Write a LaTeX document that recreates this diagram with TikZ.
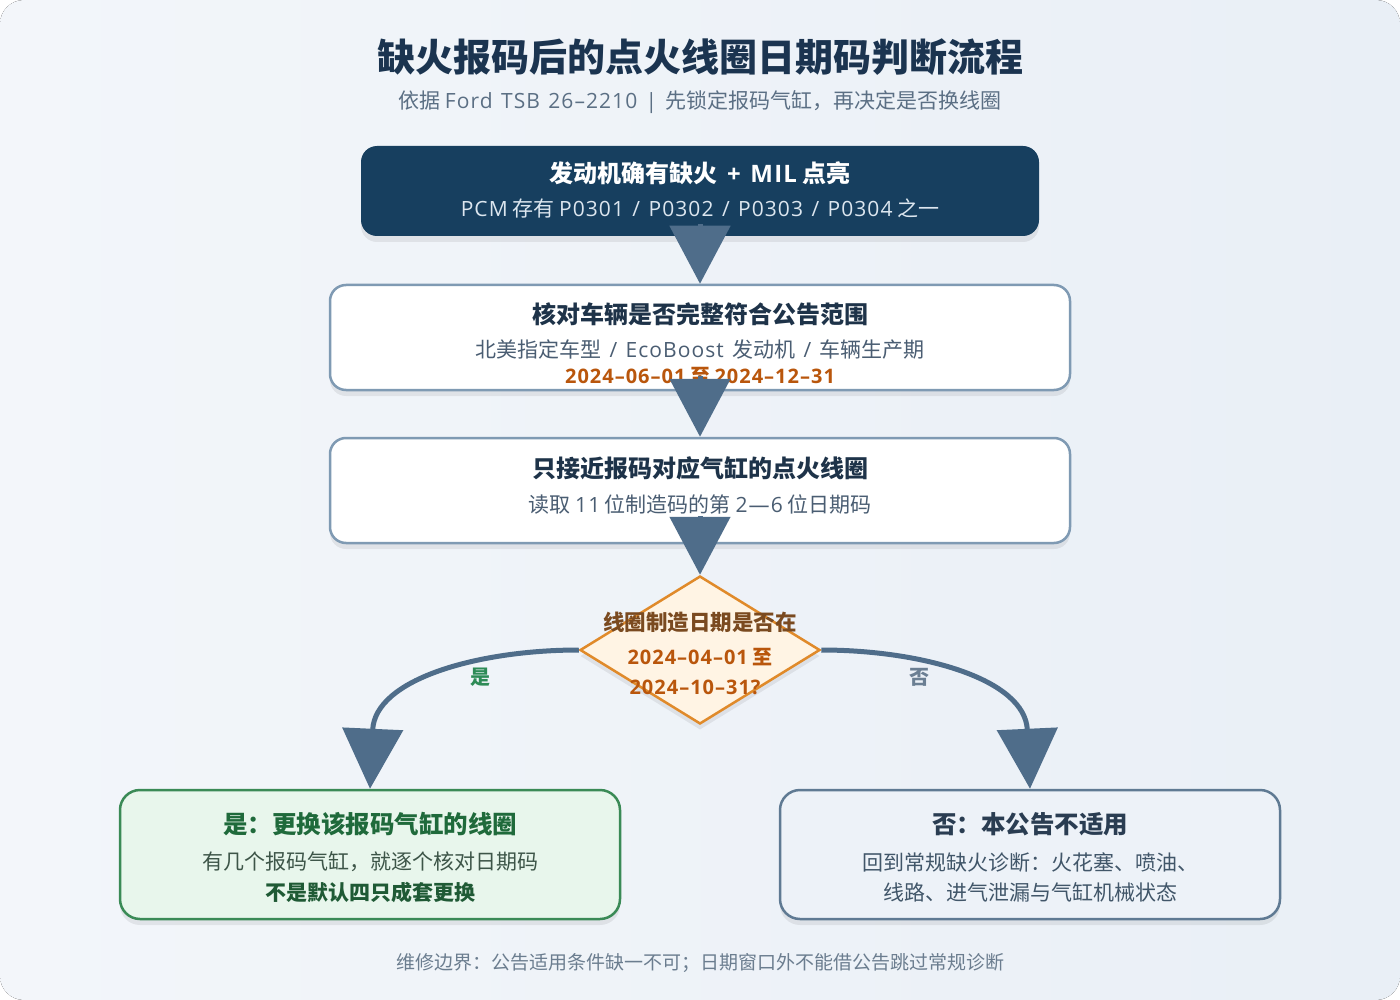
\documentclass[tikz,border=0pt]{standalone}
\usepackage{fontspec}
\setmainfont{Noto Sans CJK SC}
\newfontfamily\lat{Open Sans}[LetterSpace=5,WordSpace=1.3]
\usetikzlibrary{arrows.meta,shapes.geometric,shadows}
\definecolor{bgA}{HTML}{F3F6FA}
\definecolor{bgB}{HTML}{E9EFF6}
\definecolor{navy}{HTML}{173F5F}
\definecolor{titlec}{HTML}{1B3450}
\definecolor{subc}{HTML}{5B6F84}
\definecolor{lightc}{HTML}{DCE6EF}
\definecolor{darkc}{HTML}{1E3349}
\definecolor{bodyc}{HTML}{4A5D72}
\definecolor{orangec}{HTML}{B9560C}
\definecolor{boxline}{HTML}{7F9AB3}
\definecolor{arrowc}{HTML}{4F6D8A}
\definecolor{diafill}{HTML}{FFF4E4}
\definecolor{dialine}{HTML}{E08A2A}
\definecolor{diatitle}{HTML}{7A4A20}
\definecolor{greenfill}{HTML}{E8F6EC}
\definecolor{greenline}{HTML}{3A8A56}
\definecolor{greentitle}{HTML}{1F6A3B}
\definecolor{greenbody}{HTML}{3D5548}
\definecolor{greenbold}{HTML}{1F5A35}
\definecolor{nofill}{HTML}{EDF2F8}
\definecolor{noline}{HTML}{5F7A93}
\definecolor{notitle}{HTML}{2A3D52}
\definecolor{nobody}{HTML}{415669}
\definecolor{footc}{HTML}{6B7D8F}
\definecolor{yesc}{HTML}{2E8B57}
\definecolor{noc}{HTML}{6B7F93}
\newcommand{\fsz}[1]{\fontsize{#1}{#1}\selectfont}
\tikzset{
  boxshadow/.style={drop shadow={shadow xshift=0pt,shadow yshift=-6pt,opacity=0.07,fill=black}},
  whitebox/.style={rectangle,rounded corners=16pt,draw=boxline,line width=2.5pt,fill=white,minimum width=740pt,minimum height=105pt,inner sep=0pt,boxshadow},
  txt/.style={inner sep=0pt,anchor=center},
  flowarrow/.style={draw=arrowc,line width=5pt,-{Triangle[width=60pt,length=58pt]},arrowc},
  curvearrow/.style={draw=arrowc,line width=5pt,-{Triangle[width=60pt,length=60pt]},arrowc},
}
\begin{document}
\begin{tikzpicture}[x=1pt,y=-1pt]
\useasboundingbox (0,0) rectangle (1400,1000);
\fill[white] (0,0) rectangle (1400,1000);
\fill[left color=bgA,right color=bgB,rounded corners=24pt] (0,0) rectangle (1400,1000);

% title
\node[txt,text=titlec] (title) at (700,57) {\fsz{38}\bfseries 缺火报码后的点火线圈日期码判断流程};
\node[txt,text=subc] (sub) at (700,102) {\fsz{21}依据 {\lat Ford TSB 26–2210 | }先锁定报码气缸，再决定是否换线圈};

% box 1
\node[rectangle,rounded corners=16pt,fill=navy,minimum width=678pt,minimum height=90pt,inner sep=0pt,boxshadow] (b1) at (700,191) {};
\node[txt,text=white] (b1t) at (700,173) {\fsz{24}\bfseries 发动机确有缺火{\lat\ + MIL} 点亮};
\node[txt,text=lightc] (b1s) at (700,208) {\fsz{21}{\lat PCM} 存有 {\lat P0301 / P0302 / P0303 / P0304} 之一};

% box 2
\node[whitebox] (b2) at (700,337.5) {};
\node[txt,text=darkc] (b2t) at (700,314) {\fsz{24}\bfseries 核对车辆是否完整符合公告范围};
\node[txt,text=bodyc] (b2s) at (700,350) {\fsz{21}北美指定车型{\lat\ / EcoBoost }发动机{\lat\ / }车辆生产期};
\node[txt,text=orangec] (b2d) at (700,376) {\fsz{20}\bfseries{\lat 2024–06–01} 至 {\lat 2024–12–31}};

% box 3
\node[whitebox] (b3) at (700,490.5) {};
\node[txt,text=darkc] (b3t) at (700,468) {\fsz{24}\bfseries 只接近报码对应气缸的点火线圈};
\node[txt,text=bodyc] (b3s) at (700,504) {\fsz{21}读取 {\lat 11} 位制造码的第 {\lat 2—6} 位日期码};

% diamond
\node[diamond,draw=dialine,fill=diafill,line width=2.5pt,minimum width=240pt,minimum height=148pt,inner sep=0pt,boxshadow] (d) at (700,650) {};
\node[txt,text=diatitle] (dt) at (700,622) {\fsz{21.5}\bfseries 线圈制造日期是否在};
\node[txt,text=orangec] (dd1) at (700,657) {\fsz{20}\bfseries{\lat 2024–04–01} 至};
\node[txt,text=orangec] (dd2) at (695,687) {\fsz{20}\bfseries{\lat 2024–10–31?}};

% yes box
\node[rectangle,rounded corners=20pt,draw=greenline,fill=greenfill,line width=2.5pt,minimum width=500pt,minimum height=129pt,inner sep=0pt,boxshadow] (yes) at (370,854.5) {};
\node[txt,text=greentitle] (yt) at (370,824) {\fsz{24.5}\bfseries 是：更换该报码气缸的线圈};
\node[txt,text=greenbody] (ys) at (370,862) {\fsz{21}有几个报码气缸，就逐个核对日期码};
\node[txt,text=greenbold] (yb) at (370,892) {\fsz{21}\bfseries 不是默认四只成套更换};

% no box
\node[rectangle,rounded corners=20pt,draw=noline,fill=nofill,line width=2.5pt,minimum width=500pt,minimum height=129pt,inner sep=0pt,boxshadow] (no) at (1030,854.5) {};
\node[txt,text=notitle] (nt) at (1030,824) {\fsz{24.5}\bfseries 否：本公告不适用};
\node[txt,text=nobody] (ns1) at (1030,862) {\fsz{21}回到常规缺火诊断：火花塞、喷油、};
\node[txt,text=nobody] (ns2) at (1030,892) {\fsz{21}线路、进气泄漏与气缸机械状态};

% arrows
\draw[flowarrow] ([yshift=12pt]b1.south) -- (b2.north);
\draw[flowarrow] ([yshift=15pt]b2.south) -- (b3.north);
\draw[flowarrow] ([yshift=28pt]b3.south) -- (d.north);
\draw[curvearrow] (d.west) .. controls +(-100,0) and +(5,-110) .. (yes.north);
\draw[curvearrow] (d.east) .. controls +(100,0) and +(-5,-110) .. (no.north);
\node[txt,text=yesc] (ly) at (480,677) {\fsz{20}\bfseries 是};
\node[txt,text=noc] (ln) at (919,677) {\fsz{20}\bfseries 否};

% footer
\node[txt,text=footc] (foot) at (700,963) {\fsz{19}维修边界：公告适用条件缺一不可；日期窗口外不能借公告跳过常规诊断};
\end{tikzpicture}
\end{document}
